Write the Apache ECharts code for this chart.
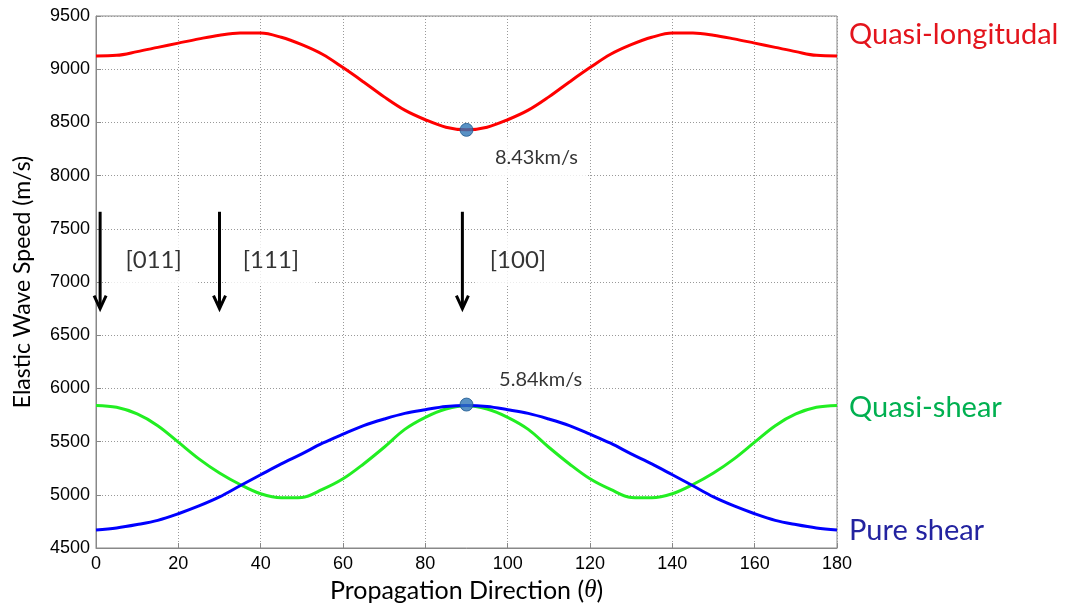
<!DOCTYPE html>
<html>
<head>
<meta charset="utf-8">
<script src="https://cdn.jsdelivr.net/npm/echarts@6/dist/echarts.min.js"></script>
<style>
  html, body {margin: 0; padding: 0; background: #fff;}
  #chart {width: 1075px; height: 606px;}
</style>
</head>
<body>
<div id="chart"></div>
<script>
// propagation direction (deg)
const theta = [0, 5, 10, 15, 20, 25, 30, 35, 40, 45, 50, 55, 60, 65, 70, 75, 80, 85, 90,
    95, 100, 105, 110, 115, 120, 125, 130, 135, 140, 145, 150, 155, 160, 165, 170, 175, 180];

// wave speeds (m/s)
const quasiLongitudinal = [9125, 9130, 9165, 9205, 9245, 9285, 9320, 9340, 9340, 9300, 9230, 9140, 9015, 8880, 8740, 8615, 8525, 8455, 8430,
    8455, 8525, 8615, 8740, 8880, 9015, 9140, 9230, 9300, 9340, 9340, 9320, 9285, 9245, 9205, 9165, 9130, 9125];
const quasiShear = [5840, 5822, 5760, 5650, 5495, 5338, 5205, 5097, 5010, 4972, 4975, 5050, 5150, 5290, 5447, 5615, 5728, 5806, 5840,
    5806, 5728, 5615, 5447, 5290, 5150, 5050, 4975, 4972, 5010, 5097, 5205, 5338, 5495, 5650, 5760, 5822, 5840];
const pureShear = [4670, 4688, 4720, 4760, 4822, 4895, 4980, 5085, 5188, 5290, 5385, 5485, 5570, 5650, 5712, 5765, 5800, 5830, 5840,
    5830, 5800, 5765, 5712, 5650, 5570, 5485, 5385, 5290, 5188, 5085, 4980, 4895, 4822, 4760, 4720, 4688, 4670];

// highlighted points
const markedPoints = [[90, 8430], [90, 5848]];
const speedNotes = [[107, 8165, '8.43km/s'], [108, 6080, '5.84km/s']];

// crystal direction arrows: x, top, bottom
const arrows = [[1, 7660, 6750], [30, 7660, 6750], [89, 7660, 6750]];
const arrowNotes = [[14, 7205, '[011]'], [42.5, 7205, '[111]'], [102.5, 7205, '[100]']];

const titleFont = 'Lato';
const tickFont = 'Liberation Sans';

const chart = echarts.init(document.getElementById('chart'));

function pairs(vals) {
    return theta.map((t, i) => [t, vals[i]]);
}

function curve(name, vals, color, labelColor, offset) {
    return {
        name: name,
        type: 'line',
        data: pairs(vals),
        smooth: 0.35,
        showSymbol: false,
        lineStyle: {color: color, width: 3},
        itemStyle: {color: color},
        endLabel: {
            show: true,
            formatter: name,
            color: labelColor,
            fontFamily: titleFont,
            fontSize: 29,
            distance: 12,
            offset: offset
        },
        z: 3
    };
}

const option = {
    animation: false,
    backgroundColor: '#fff',
    grid: {
        left: 96, right: 238, top: 16, bottom: 58,
        outerBoundsMode: 'none',
        containLabel: false,
        show: true, borderColor: '#888', borderWidth: 1
    },
    xAxis: {
        type: 'value',
        min: 0, max: 180, interval: 20,
        name: 'Propagation Direction ({i|θ})',
        nameLocation: 'middle',
        nameGap: 30,
        nameTextStyle: {
            fontFamily: titleFont, fontSize: 25, color: '#000',
            rich: {i: {fontFamily: 'Liberation Serif', fontStyle: 'italic', fontSize: 25, color: '#000'}}
        },
        axisLine: {lineStyle: {color: '#888'}},
        axisTick: {inside: true, length: 5, lineStyle: {color: '#888'}},
        axisLabel: {fontFamily: tickFont, fontSize: 18, color: '#000', margin: 7},
        splitLine: {show: true, lineStyle: {color: '#999', type: [1, 2], width: 1}}
    },
    yAxis: {
        type: 'value',
        min: 4500, max: 9500, interval: 500,
        name: 'Elastic Wave Speed (m/s)',
        nameLocation: 'middle',
        nameGap: 62,
        nameTextStyle: {fontFamily: titleFont, fontSize: 23, color: '#000'},
        axisLine: {show: true, lineStyle: {color: '#888'}},
        axisTick: {show: true, inside: true, length: 5, lineStyle: {color: '#888'}},
        axisLabel: {fontFamily: tickFont, fontSize: 18, color: '#000', margin: 6, formatter: v => String(v)},
        splitLine: {show: true, lineStyle: {color: '#999', type: [1, 2], width: 1}}
    },
    series: [
        curve('Quasi-longitudal', quasiLongitudinal, '#ff0000', '#e3141c', [0, -21]),
        curve('Quasi-shear', quasiShear, '#22ee22', '#00b050', [0, 2]),
        curve('Pure shear', pureShear, '#0000ff', '#2323a0', [0, 1]),
        {
            name: 'notes',
            type: 'scatter',
            // speed notes, then the bracketed directions a bit larger
            data: speedNotes.map(d => ({value: d}))
                .concat(arrowNotes.map(d => ({value: d, label: {fontSize: 24, padding: [13, 15]}}))),
            symbolSize: 1,
            itemStyle: {color: 'transparent'},
            label: {
                show: true,
                position: 'inside',
                formatter: p => p.value[2],
                fontFamily: titleFont,
                color: '#000',
                backgroundColor: '#fff',
                fontSize: 20,
                padding: [10, 8]
            },
            z: 2
        },
        {
            name: 'arrows',
            type: 'custom',
            data: arrows,
            encode: {x: 0, y: [1, 2]},
            renderItem: function (params, api) {
                const top = api.coord([api.value(0), api.value(1)]);
                const bot = api.coord([api.value(0), api.value(2)]);
                return {
                    type: 'group',
                    children: [
                        {type: 'line', shape: {x1: top[0], y1: top[1], x2: bot[0], y2: bot[1] - 1},
                            style: {stroke: '#000', lineWidth: 3}},
                        {type: 'polyline', shape: {points: [[bot[0] - 6, bot[1] - 13], [bot[0], bot[1]], [bot[0] + 6, bot[1] - 13]]},
                            style: {stroke: '#000', lineWidth: 3, fill: null}}
                    ]
                };
            },
            z: 4
        },
        {
            name: 'marks',
            type: 'scatter',
            data: markedPoints,
            symbolSize: 13,
            itemStyle: {color: '#2e75b6', borderColor: '#1f5a8f', borderWidth: 1},
            z: 5
        }
    ]
};

chart.setOption(option);
</script>
</body>
</html>
